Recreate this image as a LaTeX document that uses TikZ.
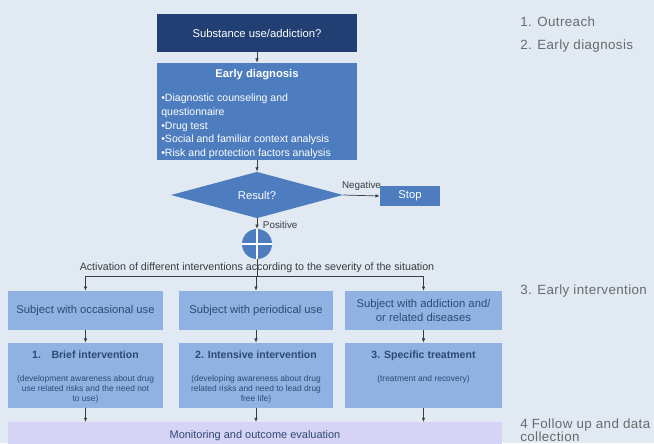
\documentclass[tikz,border=0pt]{standalone}
\usepackage{fontspec}
\setmainfont{Liberation Sans}
\newfontfamily\sidefont[LetterSpace=3.0]{Liberation Sans}
\usetikzlibrary{shapes.geometric, arrows.meta, positioning}
\definecolor{bgblue}{HTML}{E1E9F3}
\definecolor{navy}{HTML}{213F73}
\definecolor{midblue}{HTML}{4D7DBE}
\definecolor{lightblue}{HTML}{90B2E2}
\definecolor{lavender}{HTML}{D7D3F6}
\definecolor{boxtext}{HTML}{2E4A73}
\definecolor{sidegray}{HTML}{6A6A6A}
\definecolor{linegray}{HTML}{3C3C3C}

\begin{document}
\begin{tikzpicture}[x=0.025cm, y=-0.025cm,
  every node/.style={inner sep=0pt},
  darkbox/.style={fill=navy, text=white, minimum width=5cm, minimum height=0.95cm,
    font=\fontsize{8}{9.6}\selectfont},
  midbox/.style={fill=midblue, text=white, font=\fontsize{8}{9.6}\selectfont},
  lightbox/.style={fill=lightblue, text=boxtext, minimum width=3.85cm, align=center,
    font=\fontsize{8}{9.6}\selectfont},
  boxtitle/.style={text=boxtext, anchor=north, font=\bfseries\fontsize{7.5}{9}\selectfont},
  boxnote/.style={text=boxtext, anchor=north, align=center, font=\fontsize{6}{7.3}\selectfont},
  smalltext/.style={text=linegray, font=\fontsize{7}{8.4}\selectfont},
  sidelabel/.style={text=sidegray, anchor=west, align=left, font=\sidefont\fontsize{9.5}{9.4}\selectfont},
  line/.style={draw=linegray, line width=0.5pt},
  conn/.style={line, -{Latex[length=3pt,width=2.5pt]}}]

\useasboundingbox (0,0) rectangle (654,443);
\clip (0,0) rectangle (654,443);
\fill[bgblue] (0,0) rectangle (654,443);

% outreach and diagnosis
\node[darkbox] (usecase) at (257,33) {Substance use/addiction?};
\node[midbox, minimum width=5cm, minimum height=2.425cm] (diag) at (257,111.5) {};
\node[text=white, anchor=north, font=\bfseries\fontsize{8}{9.6}\selectfont] (diagtitle) at (257,69) {Early diagnosis};
\node[text=white, anchor=north west, align=left, font=\fontsize{7.5}{9.7}\selectfont] (diaglist) at (161,94)
  {\textbullet Diagnostic counseling and\\questionnaire\\\textbullet Drug test\\
   \textbullet Social and familiar context analysis\\\textbullet Risk and protection factors analysis};
\draw[conn] (usecase) -- (diag);

% result
\node[diamond, fill=midblue, text=white, minimum width=4.3cm, minimum height=1.15cm,
  font=\fontsize{8}{9.6}\selectfont] (result) at (257,195) {Result?};
\node[midbox, minimum width=1.5cm, minimum height=0.5cm] (stop) at (410,196) {Stop};
\draw[conn] (diag) -- (result);
\draw[conn] (result.east) -- node[smalltext, above=3pt] {Negative} (stop.west);

\node[circle, fill=midblue, minimum size=0.75cm] (junction) at (257,244) {};
\draw[white, line width=0.8pt] (junction.north) -- (junction.south) (junction.west) -- (junction.east);
\draw[conn] (result.south) -- node[smalltext, right=4pt, pos=0.6] {Positive} (junction.north);

% early intervention
\coordinate (bus) at (257,276);
\node[lightbox, minimum height=0.975cm] (occasional) at (85.5,310.5) {Subject with occasional use};
\node[lightbox, minimum height=0.975cm] (periodical) at (256,310.5) {Subject with periodical use};
\node[lightbox, minimum height=0.975cm, minimum width=3.925cm] (addiction) at (423.5,310.5) {Subject with addiction and/\\or related diseases};

\draw[line] (junction.south) -- (bus);
\node[text=linegray, font=\fontsize{7.6}{9}\selectfont, above=2pt] (activation) at (bus) {Activation of different interventions according to the severity of the situation};
\draw[line] (occasional.north |- bus) -- (addiction.north |- bus);
\draw[conn] (occasional.north |- bus) -- (occasional.north);
\draw[conn] (periodical.north |- bus) -- (periodical.north);
\draw[conn] (addiction.north |- bus) -- (addiction.north);

\node[lightbox, minimum height=1.625cm] (brief) at (85.5,375.5) {};
\node[lightbox, minimum height=1.625cm] (intensive) at (256,375.5) {};
\node[lightbox, minimum height=1.625cm, minimum width=3.925cm] (specific) at (423.5,375.5) {};
\node[boxtitle] (brieftitle) at (85.5,351) {1.\quad Brief intervention};
\node[boxtitle] (intensivetitle) at (256,351) {2. Intensive intervention};
\node[boxtitle] (specifictitle) at (423.5,351) {3. Specific treatment};
\node[boxnote] (briefnote) at (85.5,375) {(development awareness about drug\\use related risks and the need not\\to use)};
\node[boxnote] (intensivenote) at (256,375) {(developing awareness about drug\\related risks and need to lead drug\\free life)};
\node[boxnote] (specificnote) at (423.5,375) {(treatment and recovery)};

\draw[conn] (occasional) -- (brief);
\draw[conn] (periodical) -- (intensive);
\draw[conn] (addiction) -- (specific);

% follow up
\node[fill=lavender, minimum width=12.35cm, minimum height=1.2cm, anchor=north] (monitor) at (255,422) {};
\node[text=boxtext, font=\fontsize{7.8}{9.4}\selectfont] (monitortext) at (255,436) {Monitoring and outcome evaluation};
\draw[conn] (brief.south) -- (brief.south |- monitor.north);
\draw[conn] (intensive.south) -- (intensive.south |- monitor.north);
\draw[conn] (specific.south) -- (specific.south |- monitor.north);

% phases
\node[sidelabel] (phaseone) at (520,22) {1. Outreach};
\node[sidelabel] (phasetwo) at (520,46) {2. Early diagnosis};
\node[sidelabel] (phasethree) at (520,291) {3. Early intervention};
\node[sidelabel] (phasefour) at (520,430.5) {4 Follow up and data\\collection};
\end{tikzpicture}
\end{document}
